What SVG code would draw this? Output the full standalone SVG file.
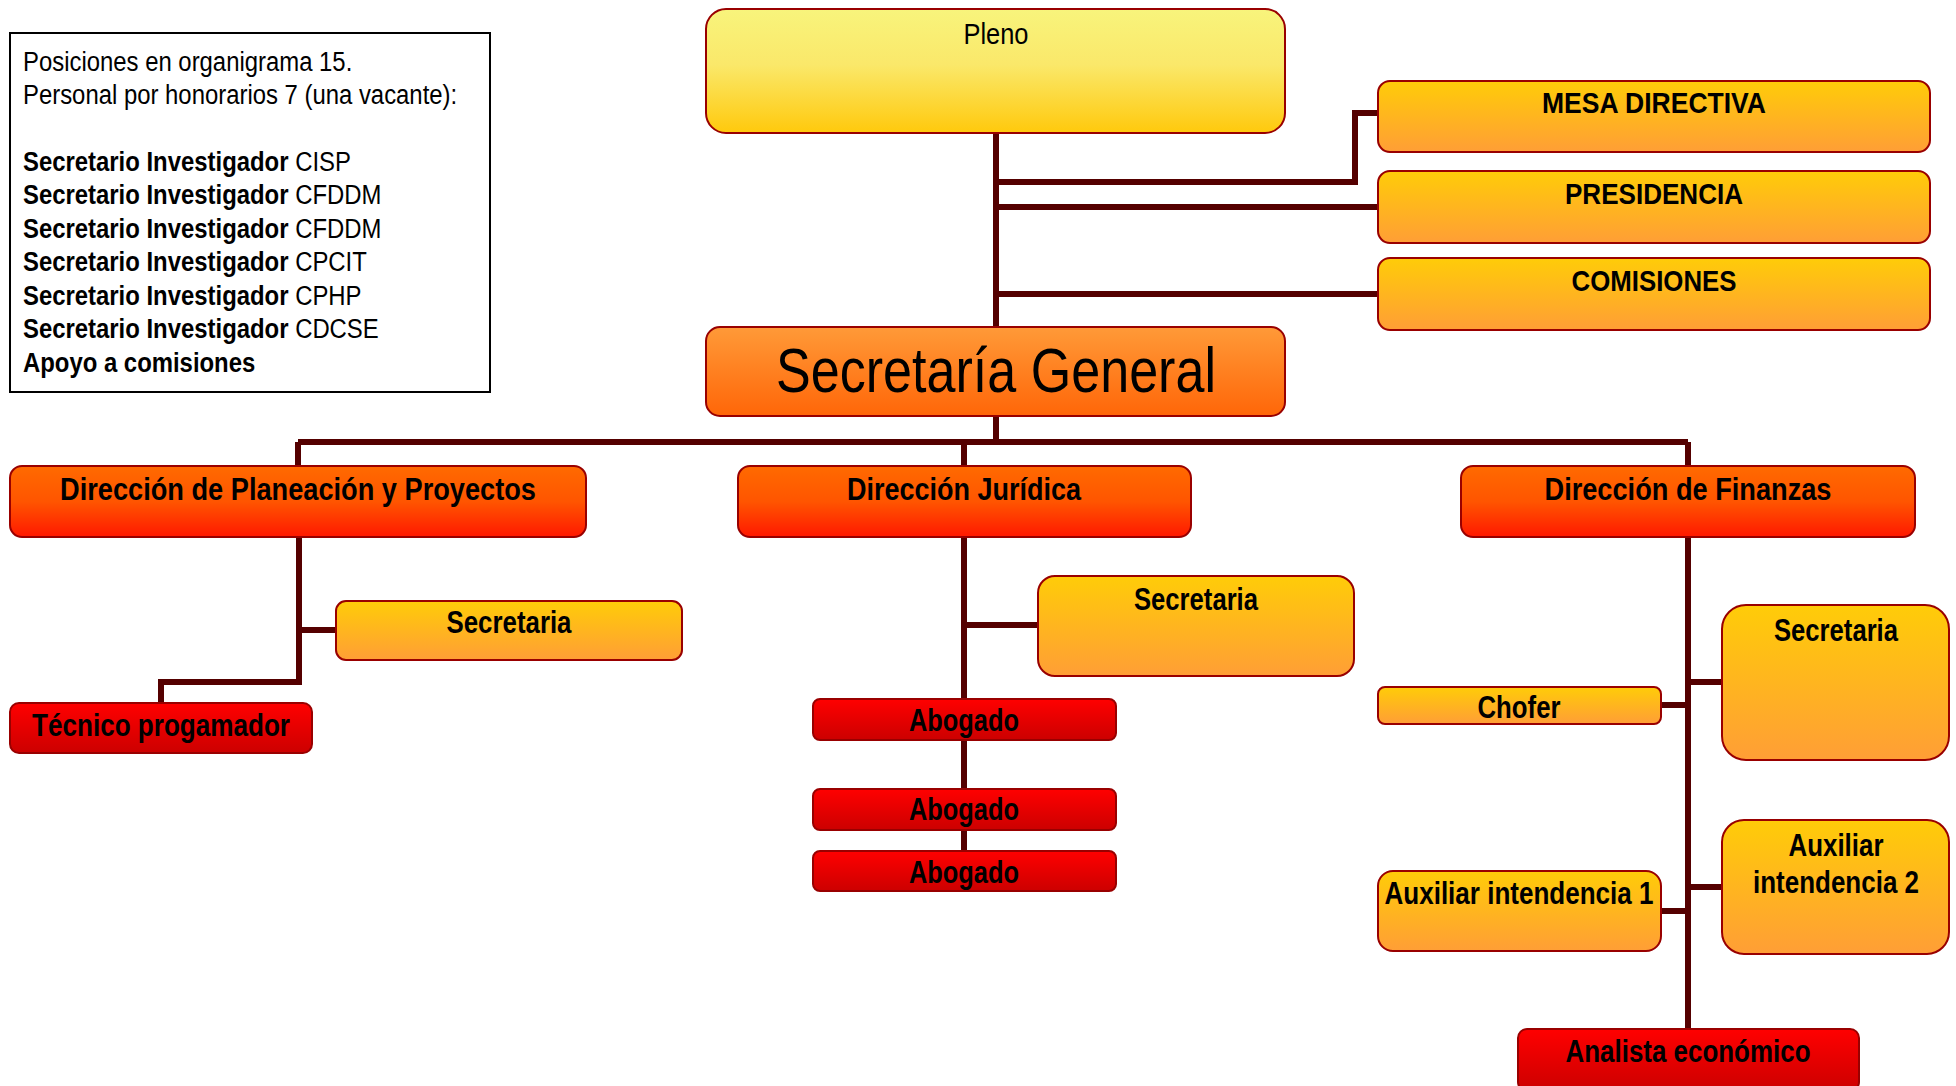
<svg xmlns="http://www.w3.org/2000/svg" width="1956" height="1086" viewBox="0 0 1956 1086">
<style>
text{font-family:"Liberation Sans",Arial,sans-serif;fill:#000}
.c{text-anchor:middle}
.b{font-weight:bold}
.box{stroke:#990000;stroke-width:2}
.conn{fill:none;stroke:#550000;stroke-width:6}
.info{font-size:27px}
.lab{font-size:31px;font-weight:bold}
.dir{font-size:31px;font-weight:bold}
.top{font-size:30px;font-weight:bold}
</style>
<defs>
<linearGradient id="gYel" x1="0" y1="0" x2="0" y2="1"><stop offset="0" stop-color="#F8F47C"/><stop offset="0.45" stop-color="#FAE86A"/><stop offset="1" stop-color="#FFC90C"/></linearGradient>
<linearGradient id="gGold" x1="0" y1="0" x2="0" y2="1"><stop offset="0" stop-color="#FFCC08"/><stop offset="1" stop-color="#FF9E36"/></linearGradient>
<linearGradient id="gSG" x1="0" y1="0" x2="0" y2="1"><stop offset="0" stop-color="#FF9A38"/><stop offset="1" stop-color="#FF6608"/></linearGradient>
<linearGradient id="gDir" x1="0" y1="0" x2="0" y2="1"><stop offset="0" stop-color="#FF6A00"/><stop offset="0.5" stop-color="#FF5500"/><stop offset="1" stop-color="#FF1800"/></linearGradient>
<linearGradient id="gRed" x1="0" y1="0" x2="0" y2="1"><stop offset="0" stop-color="#FF0000"/><stop offset="1" stop-color="#CC0000"/></linearGradient>
</defs>
<rect width="1956" height="1086" fill="#FFFFFF"/>

<g id="connectors">
<path class="conn" d="M996 133 V327 M996 415 V442"/>
<path class="conn" d="M996 182 H1355 V113 H1378"/>
<path class="conn" d="M996 207 H1378"/>
<path class="conn" d="M996 294 H1378"/>
<path class="conn" d="M298 442 H1688 M298 442 V466 M964 442 V466 M1688 442 V466"/>
<path class="conn" d="M299 537 V682 H161 V703 M299 630 H336"/>
<path class="conn" d="M964 537 V851 M964 625 H1038"/>
<path class="conn" d="M1688 537 V1029 M1688 682 H1722 M1661 705 H1688 M1688 887 H1722 M1661 911 H1688"/>
</g>

<g id="info">
<rect x="10" y="33" width="480" height="359" fill="#FFFFFF" stroke="#000000" stroke-width="2"/>
<g transform="translate(23,0) scale(0.885,1)">
<text class="info" x="0" y="71">Posiciones en organigrama 15.</text>
<text class="info" x="0" y="104">Personal por honorarios 7 (una vacante):</text>
<text class="info" x="0" y="171"><tspan class="b">Secretario Investigador</tspan> CISP</text>
<text class="info" x="0" y="204.5"><tspan class="b">Secretario Investigador</tspan> CFDDM</text>
<text class="info" x="0" y="238"><tspan class="b">Secretario Investigador</tspan> CFDDM</text>
<text class="info" x="0" y="271.5"><tspan class="b">Secretario Investigador</tspan> CPCIT</text>
<text class="info" x="0" y="305"><tspan class="b">Secretario Investigador</tspan> CPHP</text>
<text class="info" x="0" y="338.5"><tspan class="b">Secretario Investigador</tspan> CDCSE</text>
<text class="info b" x="0" y="372">Apoyo a comisiones</text>
</g>
</g>

<g id="pleno">
<rect class="box" x="706" y="9" width="579" height="124" rx="20" fill="url(#gYel)"/>
<text class="c" x="996" y="44" font-size="30" textLength="65" lengthAdjust="spacingAndGlyphs">Pleno</text>
</g>
<g id="mesa">
<rect class="box" x="1378" y="81" width="552" height="71" rx="12" fill="url(#gGold)"/>
<text class="c top" x="1654" y="113" textLength="224" lengthAdjust="spacingAndGlyphs">MESA DIRECTIVA</text>
</g>
<g id="presidencia">
<rect class="box" x="1378" y="171" width="552" height="72" rx="12" fill="url(#gGold)"/>
<text class="c top" x="1654" y="204" textLength="178" lengthAdjust="spacingAndGlyphs">PRESIDENCIA</text>
</g>
<g id="comisiones">
<rect class="box" x="1378" y="258" width="552" height="72" rx="12" fill="url(#gGold)"/>
<text class="c top" x="1654" y="291" textLength="165" lengthAdjust="spacingAndGlyphs">COMISIONES</text>
</g>
<g id="sg">
<rect class="box" x="706" y="327" width="579" height="89" rx="14" fill="url(#gSG)"/>
<text class="c" x="996" y="392" font-size="63" textLength="440" lengthAdjust="spacingAndGlyphs">Secretaría General</text>
</g>

<g id="dpp">
<rect class="box" x="10" y="466" width="576" height="71" rx="12" fill="url(#gDir)"/>
<text class="c dir" x="298" y="500" textLength="476" lengthAdjust="spacingAndGlyphs">Dirección de Planeación y Proyectos</text>
</g>
<g id="dpp-secretaria">
<rect class="box" x="336" y="601" width="346" height="59" rx="10" fill="url(#gGold)"/>
<text class="c lab" x="509" y="633" textLength="125" lengthAdjust="spacingAndGlyphs">Secretaria</text>
</g>
<g id="tecnico">
<rect class="box" x="10" y="703" width="302" height="50" rx="9" fill="url(#gRed)"/>
<text class="c lab" x="161" y="736" textLength="258" lengthAdjust="spacingAndGlyphs">Técnico progamador</text>
</g>

<g id="dj">
<rect class="box" x="738" y="466" width="453" height="71" rx="12" fill="url(#gDir)"/>
<text class="c dir" x="964" y="500" textLength="234" lengthAdjust="spacingAndGlyphs">Dirección Jurídica</text>
</g>
<g id="dj-secretaria">
<rect class="box" x="1038" y="576" width="316" height="100" rx="17" fill="url(#gGold)"/>
<text class="c lab" x="1196" y="610" textLength="124" lengthAdjust="spacingAndGlyphs">Secretaria</text>
</g>
<g id="abogado1">
<rect class="box" x="813" y="699" width="303" height="41" rx="7" fill="url(#gRed)"/>
<text class="c lab" x="964" y="731" textLength="110" lengthAdjust="spacingAndGlyphs">Abogado</text>
</g>
<g id="abogado2">
<rect class="box" x="813" y="789" width="303" height="41" rx="7" fill="url(#gRed)"/>
<text class="c lab" x="964" y="820" textLength="110" lengthAdjust="spacingAndGlyphs">Abogado</text>
</g>
<g id="abogado3">
<rect class="box" x="813" y="851" width="303" height="40" rx="7" fill="url(#gRed)"/>
<text class="c lab" x="964" y="883" textLength="110" lengthAdjust="spacingAndGlyphs">Abogado</text>
</g>

<g id="df">
<rect class="box" x="1461" y="466" width="454" height="71" rx="12" fill="url(#gDir)"/>
<text class="c dir" x="1688" y="500" textLength="287" lengthAdjust="spacingAndGlyphs">Dirección de Finanzas</text>
</g>
<g id="df-secretaria">
<rect class="box" x="1722" y="605" width="227" height="155" rx="24" fill="url(#gGold)"/>
<text class="c lab" x="1836" y="641" textLength="124" lengthAdjust="spacingAndGlyphs">Secretaria</text>
</g>
<g id="chofer">
<rect class="box" x="1378" y="687" width="283" height="37" rx="7" fill="url(#gGold)"/>
<text class="c lab" x="1519" y="718" textLength="83" lengthAdjust="spacingAndGlyphs">Chofer</text>
</g>
<g id="aux2">
<rect class="box" x="1722" y="820" width="227" height="134" rx="22" fill="url(#gGold)"/>
<text class="c lab" x="1836" y="856" textLength="95" lengthAdjust="spacingAndGlyphs">Auxiliar</text>
<text class="c lab" x="1836" y="893" textLength="166" lengthAdjust="spacingAndGlyphs">intendencia 2</text>
</g>
<g id="aux1">
<rect class="box" x="1378" y="871" width="283" height="80" rx="15" fill="url(#gGold)"/>
<text class="c lab" x="1519" y="904" textLength="269" lengthAdjust="spacingAndGlyphs">Auxiliar intendencia 1</text>
</g>
<g id="analista">
<rect class="box" x="1518" y="1029" width="341" height="62" rx="9" fill="url(#gRed)"/>
<text class="c lab" x="1688" y="1062" textLength="245" lengthAdjust="spacingAndGlyphs">Analista económico</text>
</g>
</svg>
